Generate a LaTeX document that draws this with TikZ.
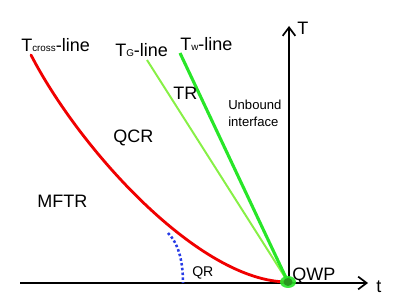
\documentclass[tikz,border=0pt]{standalone}
\usepackage{fontspec}
\setmainfont{Liberation Sans}
\usetikzlibrary{arrows.meta}

\definecolor{crossred}{RGB}{240,0,0}
\definecolor{wgreen}{RGB}{40,230,40}
\definecolor{ggreen}{RGB}{135,240,70}
\definecolor{qrblue}{RGB}{40,60,230}
\definecolor{qwpdark}{RGB}{40,150,30}

\newcommand{\biglbl}{\fontsize{12.8}{15}\selectfont}
\newcommand{\smllbl}{\fontsize{9.3}{12}\selectfont}
\newcommand{\sublbl}{\fontsize{7}{8}\selectfont}

\begin{document}
\begin{tikzpicture}[x=0.025cm, y=-0.025cm, line join=round, >={Straight Barb[length=6pt,width=9pt]},
	txt/.style={inner sep=0pt, anchor=base west, font=\biglbl}]
			
			\useasboundingbox (0,0) rectangle (400,300);
			
			\coordinate (O) at (289,283);
			\coordinate (Q) at (288,282);
			\coordinate (X0) at (20,283);
			\coordinate (X1) at (368,283);
			\coordinate (Y1) at (289,26);
			
			\coordinate (C0) at (31,55);
			\coordinate (G0) at (147,60);
			\coordinate (W0) at (180,53);
			\coordinate (R0) at (168,233);
			\coordinate (R1) at (183,283);
			
			
			\draw[line width=1.2pt, ->] (X0) -- (X1);
			\draw[line width=1.2pt, ->] (O) -- (Y1);
			
			\draw[qrblue, line width=1.8pt, dash pattern=on 1.8pt off 1.6pt] (R0) .. controls (178,243) and (183,260) .. (R1);
			
			\draw[crossred, line width=2pt, line cap=round] (C0) .. controls (80,150) and (200,282) .. (Q);
			\draw[ggreen, line width=1.4pt] (G0) -- (Q);
			\draw[wgreen, line width=2.2pt] (W0) -- (Q);
			
			\fill[wgreen, opacity=0.9] (Q) ellipse [x radius=8, y radius=6];
			\fill[qwpdark] (Q) ellipse [x radius=4.5, y radius=4];
			
			
			\node[txt] (tcross) at (21,52) {T{\sublbl cross}-line};
			\node[txt] (tg) at (115,57) {T{\sublbl G}-line};
			\node[txt] (tw) at (180,51) {T{\sublbl w}-line};
			\node[txt] (tr) at (173,100) {TR};
			\node[txt, font=\smllbl, align=left, anchor=north west] (unbound) at (228,100) {Unbound\\interface};
			\node[txt] (qcr) at (113,143) {QCR};
			\node[txt] (mftr) at (37,208) {MFTR};
			\node[txt, font=\smllbl\fontsize{10}{12}\selectfont] (qr) at (192,277) {QR};
			\node[txt] (qwp) at (292,280) {QWP};
			\node[txt] (tlab) at (376,292) {t};
			\node[txt] (Tlab) at (297,35) {T};
	\end{tikzpicture}
\end{document}
